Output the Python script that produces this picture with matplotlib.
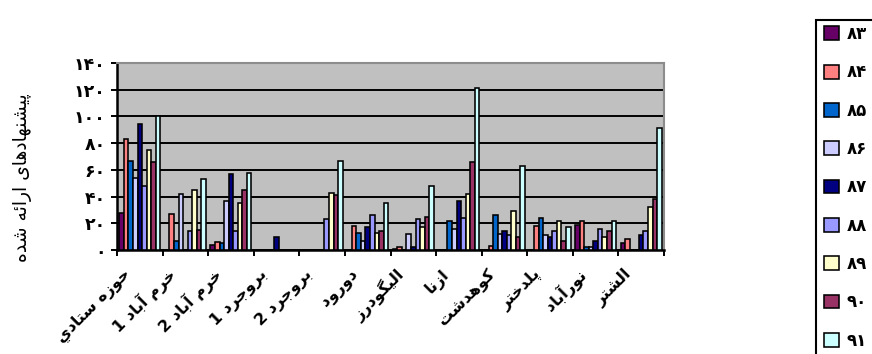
import numpy as np
import matplotlib
matplotlib.use("Agg")
import matplotlib.pyplot as plt
from matplotlib.transforms import ScaledTranslation
from matplotlib.patches import Rectangle

plt.rcParams["font.family"] = ["DejaVu Sans"]

# ---- data -------------------------------------------------------------
categories = ["حوزه ستادي", "خرم آباد 1", "خرم آباد 2", "بروجرد 1", "بروجرد 2",
              "دورود", "الیگودرز", "ازنا", "کوهدشت", "پلدختر", "نورآباد", "الشتر"]
years = ["۸۳", "۸۴", "۸۵", "۸۶", "۸۷", "۸۸", "۸۹", "۹۰", "۹۱"]

v83 = [28, 0, 4, 0, 0, 0, 1, 0, 0, 0, 19, 5]
v84 = [83, 27, 6, 0, 0, 18, 2, 0, 3, 18, 22, 8]
v85 = [67, 7, 5, 0, 0, 13, 0, 22, 26, 24, 2, 0]
v86 = [54, 42, 37, 0, 0, 7, 12, 16, 12, 11, 2, 0]
v87 = [94, 0, 57, 10, 0, 17, 2, 37, 14, 10, 7, 11]
v88 = [48, 14, 14, 0, 23, 26, 23, 24, 11, 14, 16, 14]
v89 = [75, 45, 35, 0, 43, 13, 17, 42, 29, 22, 10, 32]
v90 = [66, 15, 45, 0, 41, 14, 25, 66, 10, 7, 14, 38]
v91 = [100, 53, 58, 0, 67, 35, 48, 121, 63, 17, 22, 91]
series = [v83, v84, v85, v86, v87, v88, v89, v90, v91]

y_ticks = [0, 20, 40, 60, 80, 100, 120, 140]
y_title = "پیشنهادهای ارائه شده"

colors = ["#660066", "#FF8080", "#0066CC", "#CCCCFF", "#000080",
          "#9999FF", "#FFFFCC", "#993366", "#CCFFFF"]

# ---- minimal Arabic/Persian shaping (matplotlib has no text shaping) ----
# isolated, final, initial, medial
FORMS = {
    "ا": ("\uFE8D", "\uFE8E", None, None),
    "آ": ("\uFE81", "\uFE82", None, None),
    "د": ("\uFEA9", "\uFEAA", None, None),
    "ر": ("\uFEAD", "\uFEAE", None, None),
    "ز": ("\uFEAF", "\uFEB0", None, None),
    "و": ("\uFEED", "\uFEEE", None, None),
    "ب": ("\uFE8F", "\uFE90", "\uFE91", "\uFE92"),
    "پ": ("\uFB56", "\uFB57", "\uFB58", "\uFB59"),
    "ت": ("\uFE95", "\uFE96", "\uFE97", "\uFE98"),
    "ج": ("\uFE9D", "\uFE9E", "\uFE9F", "\uFEA0"),
    "ح": ("\uFEA1", "\uFEA2", "\uFEA3", "\uFEA4"),
    "خ": ("\uFEA5", "\uFEA6", "\uFEA7", "\uFEA8"),
    "س": ("\uFEB1", "\uFEB2", "\uFEB3", "\uFEB4"),
    "ش": ("\uFEB5", "\uFEB6", "\uFEB7", "\uFEB8"),
    "ک": ("\uFB8E", "\uFB8F", "\uFB90", "\uFB91"),
    "گ": ("\uFB92", "\uFB93", "\uFB94", "\uFB95"),
    "ل": ("\uFEDD", "\uFEDE", "\uFEDF", "\uFEE0"),
    "م": ("\uFEE1", "\uFEE2", "\uFEE3", "\uFEE4"),
    "ن": ("\uFEE5", "\uFEE6", "\uFEE7", "\uFEE8"),
    "ه": ("\uFEE9", "\uFEEA", "\uFEEB", "\uFEEC"),
    "ی": ("\uFBFC", "\uFBFD", "\uFBFE", "\uFBFF"),
    "ي": ("\uFEF1", "\uFEF2", "\uFEF3", "\uFEF4"),
    "ئ": ("\uFE89", "\uFE8A", "\uFE8B", "\uFE8C"),
}


def shape(text):
    out = []
    n = len(text)
    for i, c in enumerate(text):
        if c not in FORMS:
            out.append(c)
            continue
        iso, fin, ini, med = FORMS[c]
        prev = text[i - 1] if i > 0 else None
        nxt = text[i + 1] if i + 1 < n else None
        from_prev = prev in FORMS and FORMS[prev][2] is not None
        to_next = ini is not None and nxt in FORMS
        if from_prev and to_next:
            out.append(med)
        elif from_prev:
            out.append(fin)
        elif to_next:
            out.append(ini)
        else:
            out.append(iso)
    return "".join(reversed(out))


def fa_num(v):
    return str(v).translate(str.maketrans("0123456789", "۰۱۲۳۴۵۶۷۸۹"))


# ---- figure -----------------------------------------------------------
W, H = 872, 354
fig = plt.figure(figsize=(W / 100, H / 100), dpi=100)
fig.patch.set_facecolor("white")
ax = fig.add_axes([117 / W, 1 - 250 / H, 547 / W, 187 / H])
ax.set_facecolor("#C0C0C0")

x = np.arange(len(categories))
nser = len(series)
bw = 0.1
bars = []
for j, vals in enumerate(series):
    b = ax.bar(x + (j - (nser - 1) / 2) * bw, vals, width=bw, color=colors[j],
               edgecolor="black", linewidth=1.15, zorder=3, label=years[j])
    bars.append(b)

ax.set_xlim(-0.5, len(categories) - 0.5)
ax.set_ylim(0, 140)

ax.set_yticks(y_ticks)
ax.set_yticklabels([fa_num(t) for t in y_ticks], fontsize=12.5, fontweight="bold")
ax.yaxis.grid(True, color="black", linewidth=1.4, zorder=1)
ax.set_axisbelow(True)
ax.tick_params(axis="y", direction="out", length=4, width=1.4, pad=4)

ax.set_xticks(np.arange(-0.5, len(categories), 1.0))
ax.set_xticklabels([])
ax.tick_params(axis="x", direction="out", length=4, width=1.4)

for side in ("left", "bottom"):
    ax.spines[side].set_color("black")
    ax.spines[side].set_linewidth(1.8)
for side in ("top", "right"):
    ax.spines[side].set_color("#8C8C8C")
    ax.spines[side].set_linewidth(1.5)

# rotated category names
offset = ScaledTranslation(-12 / 100, -22 / 100, fig.dpi_scale_trans)
for i, name in enumerate(categories):
    ax.text(i, 0, shape(name), transform=ax.get_xaxis_transform() + offset,
            rotation=45, rotation_mode="anchor", ha="right", va="center",
            fontsize=11.5, fontweight="bold", color="black")

fig.text(23 / W, 1 - 178 / H, shape(y_title), rotation=90, ha="center",
         va="center", fontsize=13.5, color="black")

# legend box running off the right and bottom edges
fig.patches.append(Rectangle((816 / W, -0.1), 0.3, 1.1 - 20 / H,
                             transform=fig.transFigure, fill=False,
                             edgecolor="black", linewidth=1.5))
fig.legend(handles=bars, labels=years, loc="upper left",
           bbox_to_anchor=(824 / W, 1 - 25 / H), bbox_transform=fig.transFigure,
           frameon=False, borderpad=0, borderaxespad=0, handlelength=0.9,
           handleheight=0.9, handletextpad=0.45, labelspacing=1.22,
           prop={"size": 12, "weight": "bold"})

fig.savefig("out.png", dpi=100)
